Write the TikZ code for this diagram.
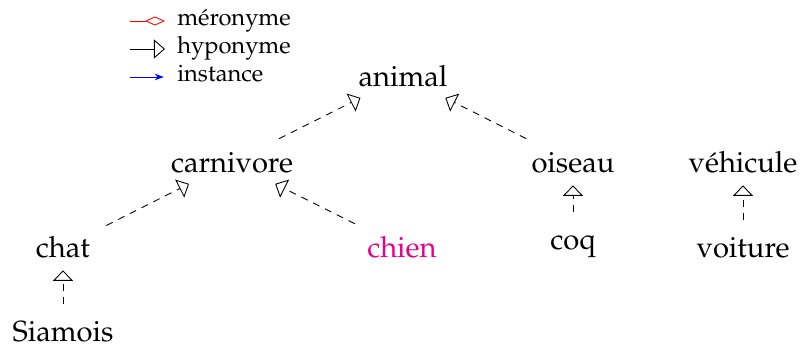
\documentclass[tikz,border=0pt]{standalone}
\usepackage[T1]{fontenc}
\usepackage{mathpazo}
\usepackage{tikz}
\usetikzlibrary{arrows.meta}

\definecolor{chienpink}{RGB}{232,0,138}

\tikzset{
  concept/.style={anchor=south, inner sep=5.5pt, text height=11.5pt,
    font=\fontsize{16.6}{20}\selectfont},
  hypo/.style={line width=0.5pt, dash pattern=on 4pt off 3.5pt,
    -{Triangle[open,length=0.21cm,width=0.4cm]}, shorten <=4pt, shorten >=1.5pt},
  legendtext/.style={anchor=mid west, inner sep=4.5pt,
    font=\fontsize{13.5}{16}\selectfont},
}

\begin{document}
\begin{tikzpicture}[x=0.02cm, y=-0.02cm]
  \useasboundingbox (0,0) rectangle (802,351);

  % legende
  \coordinate (m0) at (130,21);
  \coordinate (h0) at (130,49);
  \coordinate (i0) at (130,77);
  \node[legendtext] (mero) at (169,21) {m\'eronyme};
  \node[legendtext] (hypo) at (169,49) {hyponyme};
  \node[legendtext] (inst) at (169,77) {instance};
  \draw[red, line width=0.5pt, shorten >=2.3pt, -{Diamond[open,length=0.4cm,width=0.18cm]}] (m0) -- (mero.mid west);
  \draw[line width=0.5pt, shorten >=2.3pt, -{Triangle[open,length=0.22cm,width=0.38cm]}] (h0) -- (hypo.mid west);
  \draw[blue, line width=0.5pt, shorten >=3pt, -{Stealth[length=0.18cm,width=0.13cm]}] (i0) -- (inst.mid west);

  % concepts
  \node[concept] (animal) at (403,96.7) {animal};
  \node[concept] (carnivore) at (232,182.7) {carnivore};
  \node[concept] (oiseau) at (573,182.7) {oiseau};
  \node[concept] (vehicule) at (743,182.7) {v\'ehicule};
  \node[concept] (chat) at (63,267.7) {chat};
  \node[concept, text=chienpink] (chien) at (402,267.7) {chien};
  \node[concept] (coq) at (573,267.7) {coq};
  \node[concept] (voiture) at (743,267.7) {voiture};
  \node[concept] (siamois) at (63,351.7) {Siamois};

  \draw[hypo] (carnivore) -- (animal);
  \draw[hypo] (oiseau) -- (animal);
  \draw[hypo] (chat) -- (carnivore);
  \draw[hypo] (chien) -- (carnivore);
  \draw[hypo] (coq) -- (oiseau);
  \draw[hypo] (voiture) -- (vehicule);
  \draw[hypo] (siamois) -- (chat);
\end{tikzpicture}
\end{document}
